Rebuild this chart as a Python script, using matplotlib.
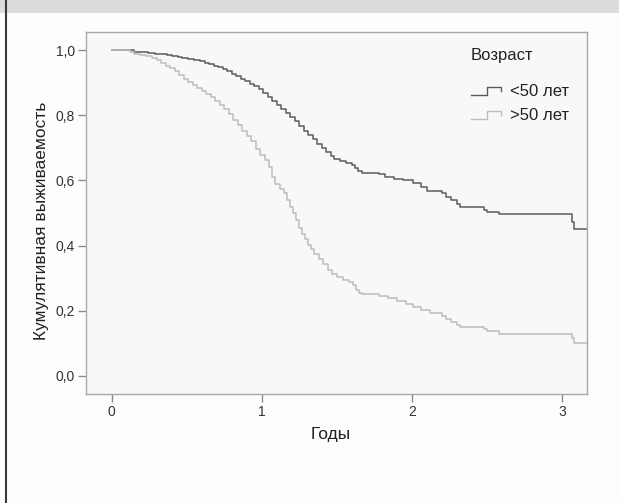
import matplotlib
matplotlib.use("Agg")
import matplotlib.pyplot as plt
from matplotlib.legend_handler import HandlerBase
from matplotlib.lines import Line2D
from matplotlib.patches import Rectangle

plt.rcParams['font.family'] = ['Liberation Sans', 'DejaVu Sans']

# Kaplan-Meier estimates (years, cumulative survival)
young_t = [0.00, 0.15, 0.19, 0.24, 0.29, 0.33, 0.37, 0.40, 0.44, 0.47, 0.51,
           0.55, 0.59, 0.62, 0.65, 0.68, 0.71, 0.74, 0.77, 0.80, 0.83, 0.86,
           0.89, 0.92, 0.95, 0.98, 1.01, 1.04, 1.07, 1.10, 1.13, 1.16, 1.19,
           1.22, 1.25, 1.28, 1.31, 1.34, 1.37, 1.40, 1.43, 1.46, 1.48, 1.52,
           1.56, 1.60, 1.62, 1.64, 1.67, 1.78, 1.82, 1.88, 1.94, 2.01, 2.06,
           2.10, 2.20, 2.23, 2.26, 2.30, 2.32, 2.48, 2.50, 2.58, 3.067, 3.083,
           3.167]
young_s = [1.000, 0.996, 0.994, 0.992, 0.990, 0.988, 0.985, 0.983, 0.980, 0.977, 0.974,
           0.971, 0.966, 0.962, 0.958, 0.953, 0.948, 0.942, 0.935, 0.928, 0.920, 0.912,
           0.905, 0.897, 0.889, 0.880, 0.869, 0.857, 0.845, 0.832, 0.819, 0.806, 0.795,
           0.782, 0.768, 0.753, 0.739, 0.726, 0.712, 0.700, 0.688, 0.676, 0.666, 0.660,
           0.655, 0.648, 0.638, 0.630, 0.622, 0.620, 0.612, 0.606, 0.600, 0.591, 0.580,
           0.568, 0.560, 0.550, 0.540, 0.528, 0.517, 0.510, 0.503, 0.496, 0.472, 0.450,
           0.450]

old_t = [0.00, 0.12, 0.15, 0.19, 0.23, 0.27, 0.30, 0.33, 0.36, 0.39, 0.42, 0.45,
         0.48, 0.51, 0.54, 0.57, 0.60, 0.63, 0.66, 0.69, 0.72, 0.75, 0.78, 0.81,
         0.84, 0.87, 0.90, 0.93, 0.96, 0.99, 1.02, 1.05, 1.07, 1.09, 1.12, 1.15,
         1.17, 1.19, 1.21, 1.23, 1.25, 1.27, 1.29, 1.31, 1.33, 1.35, 1.38, 1.41,
         1.44, 1.47, 1.50, 1.54, 1.58, 1.61, 1.63, 1.65, 1.67, 1.78, 1.84, 1.90,
         1.96, 2.01, 2.06, 2.12, 2.20, 2.23, 2.26, 2.30, 2.32, 2.48, 2.50, 2.58,
         3.067, 3.083, 3.167]
old_s = [1.000, 0.996, 0.990, 0.986, 0.981, 0.976, 0.969, 0.962, 0.953, 0.944, 0.935, 0.925,
         0.913, 0.902, 0.893, 0.884, 0.875, 0.866, 0.856, 0.844, 0.832, 0.818, 0.803, 0.787,
         0.770, 0.753, 0.737, 0.720, 0.698, 0.677, 0.664, 0.640, 0.612, 0.590, 0.575, 0.560,
         0.540, 0.520, 0.500, 0.478, 0.455, 0.437, 0.420, 0.403, 0.388, 0.375, 0.360, 0.342,
         0.325, 0.312, 0.302, 0.295, 0.288, 0.278, 0.265, 0.255, 0.250, 0.245, 0.238, 0.230,
         0.222, 0.212, 0.203, 0.192, 0.185, 0.175, 0.166, 0.157, 0.150, 0.143, 0.137, 0.128,
         0.115, 0.100, 0.100]

labels = ['<50 лет', '>50 лет']
colors = ['#5c5c5c', '#bcbcbc']
yticks = [0.0, 0.2, 0.4, 0.6, 0.8, 1.0]
xticks = [0, 1, 2, 3]


class StepHandler(HandlerBase):
    # little step-shaped icon like in SPSS legends
    def create_artists(self, legend, orig, xd, yd, w, h, fontsize, trans):
        xs = [xd, xd + w * 0.5, xd + w * 0.5, xd + w * 0.9, xd + w * 0.9]
        ys = [yd + h * 0.05, yd + h * 0.05, yd + h * 0.75, yd + h * 0.75, yd + h * 0.4]
        ln = Line2D(xs, ys, color=orig.get_color(), lw=1.0, transform=trans)
        return [ln]


fig = plt.figure(figsize=(6.19, 5.03), dpi=100)
fig.patch.set_facecolor('#fdfdfd')

# grey header strip and left border
fig.add_artist(Rectangle((0, 1 - 13 / 503), 1, 13 / 503, transform=fig.transFigure,
                         facecolor='#dcdcdc', edgecolor='none'))
fig.add_artist(Line2D([5.5 / 619, 5.5 / 619], [0, 1], transform=fig.transFigure,
                      color='#3a3a3a', lw=1.5))

ax = fig.add_axes([86 / 619, 1 - 394 / 503, (587 - 86) / 619, (394 - 31.7) / 503])
ax.set_facecolor('#f8f8f8')

lines = []
for t, s, lab, c in zip([young_t, old_t], [young_s, old_s], labels, colors):
    ln, = ax.step(t, s, where='post', color=c, lw=1.1, label=lab)
    lines.append(ln)

ax.set_xlim(-0.17, 3.167)
ax.set_ylim(-0.056, 1.057)
ax.set_xticks(xticks)
ax.set_xticklabels([str(v) for v in xticks])
ax.set_yticks(yticks)
ax.set_yticklabels([f'{v:.1f}'.replace('.', ',') for v in yticks])

for sp in ax.spines.values():
    sp.set_color('#a8a8a8')
    sp.set_linewidth(1.0)
ax.tick_params(colors='#8a8a8a', labelcolor='#333333', labelsize=10, length=6, width=1,
               pad=2)

ax.set_xlabel('Годы', fontsize=12.5, color='#222222')
ax.set_ylabel('Кумулятивная выживаемость', fontsize=12.5, color='#222222')
ax.xaxis.set_label_coords(0.489, -0.09)
ax.yaxis.set_label_coords(-0.074, 0.477)

leg = ax.legend(handles=lines, title='Возраст', loc='upper left',
                bbox_to_anchor=(0.768, 0.955), frameon=False, fontsize=12,
                title_fontsize=12, handler_map={Line2D: StepHandler()},
                handlelength=2.0, handletextpad=0.35, labelspacing=0.55,
                borderpad=0, borderaxespad=0, alignment='left')
for txt in leg.get_texts():
    txt.set_color('#222222')
leg.get_title().set_color('#222222')
leg._legend_box.sep = 15

fig.savefig('out.png', dpi=100, facecolor=fig.get_facecolor())
